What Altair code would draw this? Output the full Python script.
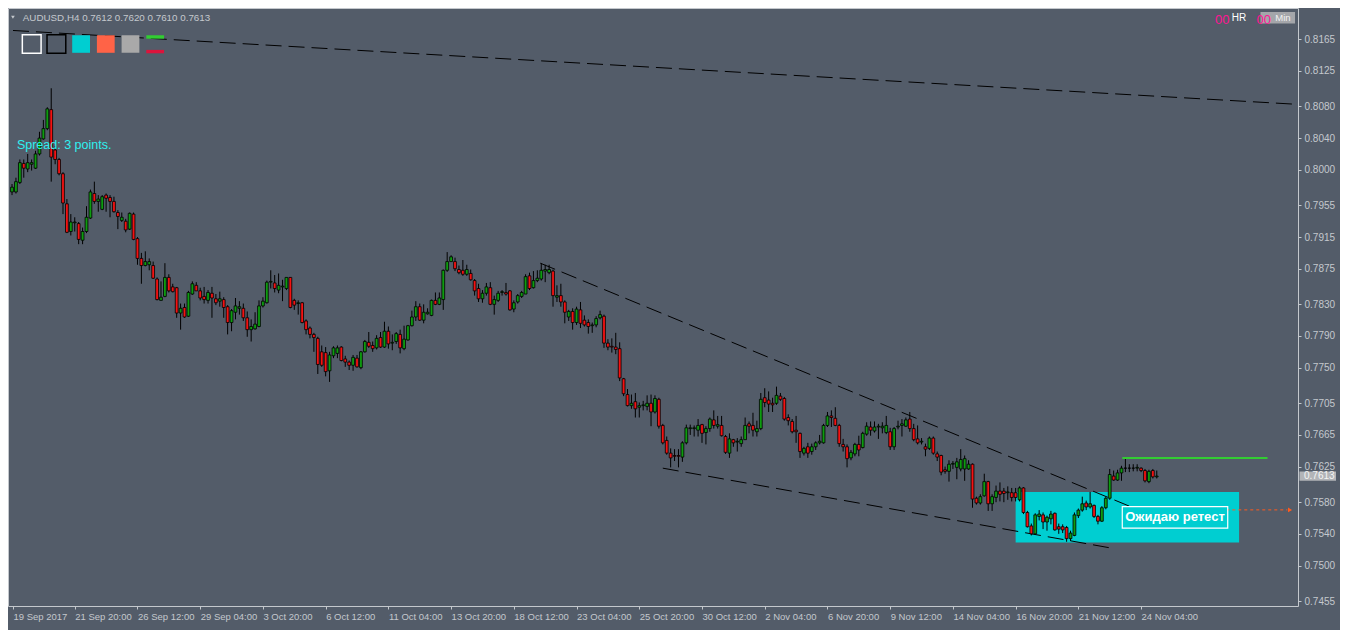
import json
import altair as alt
import pandas as pd

# ---------------- data (prices in 1/10000 units) ----------------
OPEN = [
    7972, 7972, 7984, 8008, 8001, 8007, 8002, 8020, 8039, 8052,
    8076, 8025, 8013, 7995, 7957, 7922, 7933, 7932, 7911, 7922,
    7939, 7970, 7960, 7950, 7968, 7965, 7960, 7946, 7936, 7935,
    7925, 7944, 7913, 7888, 7879, 7880, 7879, 7862, 7835, 7840,
    7864, 7852, 7851, 7819, 7826, 7815, 7843, 7854, 7847, 7840,
    7835, 7844, 7837, 7834, 7836, 7827, 7807, 7820, 7825, 7825,
    7813, 7798, 7799, 7802, 7828, 7832, 7858, 7857, 7848, 7852,
    7850, 7864, 7835, 7831, 7832, 7809, 7800, 7792, 7787, 7770,
    7769, 7746, 7765, 7768, 7776, 7761, 7757, 7753, 7762, 7750,
    7770, 7782, 7778, 7775, 7788, 7776, 7796, 7781, 7783, 7792,
    7774, 7785, 7803, 7814, 7827, 7810, 7818, 7816, 7835, 7830,
    7836, 7873, 7884, 7884, 7874, 7873, 7868, 7869, 7860, 7850,
    7837, 7844, 7851, 7830, 7835, 7845, 7845, 7847, 7824, 7833,
    7840, 7843, 7866, 7851, 7860, 7862, 7872, 7870, 7872, 7839,
    7841, 7833, 7814, 7821, 7807, 7823, 7810, 7807, 7803, 7804,
    7813, 7815, 7781, 7777, 7776, 7774, 7736, 7716, 7702, 7707,
    7700, 7702, 7701, 7705, 7694, 7710, 7677, 7658, 7642, 7639,
    7639, 7637, 7655, 7673, 7673, 7671, 7678, 7668, 7673, 7684,
    7676, 7677, 7663, 7642, 7659, 7656, 7654, 7659, 7679, 7677,
    7669, 7673, 7712, 7709, 7705, 7705, 7714, 7711, 7687, 7682,
    7671, 7667, 7642, 7650, 7644, 7650, 7655, 7655, 7677, 7689,
    7686, 7677, 7653, 7650, 7636, 7641, 7653, 7649, 7666, 7675,
    7670, 7675, 7674, 7668, 7669, 7650, 7675, 7677, 7676, 7685,
    7673, 7660, 7656, 7650, 7648, 7661, 7641, 7639, 7621, 7619,
    7628, 7624, 7622, 7622, 7622, 7628, 7585, 7579, 7588, 7606,
    7578, 7586, 7594, 7594, 7592, 7592, 7592, 7583, 7598, 7567,
    7550, 7540, 7562, 7564, 7555, 7559, 7566, 7549, 7549, 7548,
    7534, 7538, 7563, 7570, 7579, 7574, 7576, 7562, 7556, 7573,
    7585, 7613, 7608, 7617, 7623, 7623, 7623, 7623, 7623, 7620,
    7606, 7620, 7612,
]
HIGH = [
    7982, 7990, 8013, 8013, 8020, 8013, 8024, 8048, 8063, 8079,
    8103, 8030, 8015, 7997, 7963, 7944, 7940, 7934, 7927, 7954,
    7975, 7985, 7968, 7968, 7970, 7968, 7966, 7949, 7946, 7938,
    7946, 7946, 7915, 7895, 7897, 7888, 7884, 7864, 7859, 7882,
    7868, 7856, 7852, 7831, 7831, 7847, 7859, 7858, 7851, 7852,
    7848, 7852, 7843, 7846, 7839, 7829, 7824, 7838, 7834, 7831,
    7821, 7811, 7820, 7835, 7839, 7860, 7873, 7867, 7869, 7861,
    7864, 7864, 7837, 7835, 7833, 7811, 7802, 7794, 7789, 7778,
    7776, 7770, 7777, 7778, 7777, 7765, 7759, 7766, 7766, 7771,
    7785, 7795, 7783, 7791, 7795, 7808, 7802, 7792, 7795, 7798,
    7803, 7804, 7822, 7834, 7831, 7830, 7825, 7836, 7845, 7845,
    7874, 7896, 7892, 7889, 7879, 7886, 7880, 7874, 7862, 7856,
    7848, 7857, 7858, 7841, 7847, 7848, 7857, 7848, 7835, 7843,
    7847, 7868, 7870, 7872, 7873, 7882, 7880, 7880, 7874, 7854,
    7856, 7835, 7823, 7825, 7827, 7833, 7816, 7811, 7807, 7815,
    7822, 7817, 7786, 7787, 7794, 7782, 7737, 7723, 7716, 7718,
    7706, 7708, 7715, 7716, 7715, 7712, 7679, 7663, 7648, 7647,
    7647, 7657, 7678, 7678, 7677, 7685, 7679, 7676, 7687, 7696,
    7689, 7689, 7665, 7667, 7660, 7661, 7663, 7687, 7682, 7693,
    7683, 7718, 7724, 7720, 7712, 7726, 7718, 7713, 7691, 7685,
    7689, 7668, 7650, 7655, 7654, 7657, 7665, 7679, 7694, 7696,
    7700, 7679, 7660, 7653, 7646, 7655, 7664, 7669, 7681, 7682,
    7682, 7679, 7681, 7689, 7674, 7675, 7683, 7685, 7687, 7694,
    7679, 7677, 7661, 7654, 7663, 7663, 7644, 7640, 7625, 7633,
    7632, 7636, 7647, 7639, 7633, 7629, 7587, 7590, 7616, 7607,
    7590, 7601, 7605, 7598, 7600, 7598, 7598, 7600, 7599, 7569,
    7553, 7566, 7570, 7567, 7563, 7569, 7567, 7553, 7552, 7550,
    7544, 7567, 7572, 7587, 7582, 7593, 7577, 7564, 7575, 7587,
    7622, 7620, 7621, 7626, 7635, 7628, 7628, 7628, 7624, 7622,
    7621, 7622, 7620,
]
LOW = [
    7968, 7970, 7982, 7990, 7997, 7999, 8001, 8018, 8038, 8050,
    7985, 8007, 7993, 7944, 7920, 7917, 7922, 7906, 7906, 7920,
    7938, 7957, 7947, 7949, 7947, 7940, 7946, 7925, 7934, 7921,
    7924, 7911, 7880, 7856, 7878, 7873, 7862, 7835, 7835, 7839,
    7845, 7845, 7813, 7798, 7813, 7814, 7842, 7847, 7835, 7831,
    7831, 7813, 7829, 7827, 7813, 7792, 7796, 7811, 7817, 7809,
    7789, 7783, 7798, 7801, 7826, 7831, 7850, 7845, 7844, 7834,
    7848, 7825, 7823, 7817, 7806, 7792, 7787, 7770, 7742, 7751,
    7739, 7732, 7762, 7762, 7758, 7751, 7747, 7746, 7750, 7748,
    7769, 7775, 7770, 7773, 7775, 7775, 7774, 7772, 7780, 7768,
    7772, 7784, 7802, 7809, 7809, 7806, 7817, 7815, 7829, 7829,
    7823, 7871, 7884, 7872, 7868, 7866, 7866, 7860, 7841, 7833,
    7832, 7841, 7829, 7817, 7833, 7841, 7841, 7822, 7820, 7831,
    7838, 7843, 7848, 7850, 7858, 7860, 7858, 7868, 7827, 7833,
    7827, 7806, 7809, 7798, 7804, 7800, 7802, 7793, 7794, 7801,
    7811, 7775, 7772, 7769, 7767, 7733, 7714, 7701, 7698, 7687,
    7687, 7696, 7696, 7676, 7692, 7673, 7653, 7640, 7624, 7632,
    7624, 7631, 7653, 7665, 7663, 7663, 7655, 7653, 7669, 7673,
    7673, 7663, 7641, 7636, 7650, 7644, 7650, 7659, 7667, 7663,
    7663, 7671, 7700, 7694, 7694, 7703, 7708, 7683, 7677, 7667,
    7655, 7636, 7639, 7636, 7640, 7646, 7653, 7654, 7675, 7675,
    7676, 7650, 7644, 7624, 7633, 7638, 7638, 7648, 7664, 7664,
    7668, 7660, 7667, 7666, 7646, 7646, 7672, 7663, 7675, 7669,
    7657, 7653, 7653, 7638, 7646, 7640, 7632, 7614, 7616, 7606,
    7622, 7609, 7619, 7607, 7621, 7573, 7577, 7577, 7587, 7569,
    7569, 7580, 7581, 7580, 7583, 7581, 7581, 7581, 7565, 7548,
    7538, 7539, 7557, 7546, 7544, 7552, 7544, 7540, 7541, 7530,
    7531, 7537, 7560, 7568, 7570, 7572, 7560, 7552, 7555, 7571,
    7583, 7607, 7607, 7607, 7618, 7618, 7619, 7619, 7618, 7605,
    7604, 7610, 7610,
]
CLOSE = [
    7978, 7985, 8009, 8002, 8009, 8009, 8020, 8040, 8052, 8077,
    8016, 8013, 7995, 7958, 7921, 7934, 7934, 7912, 7922, 7940,
    7972, 7960, 7963, 7966, 7964, 7960, 7947, 7941, 7940, 7924,
    7945, 7912, 7888, 7879, 7884, 7884, 7863, 7836, 7839, 7864,
    7847, 7846, 7819, 7825, 7814, 7845, 7856, 7847, 7838, 7836,
    7845, 7838, 7832, 7837, 7826, 7807, 7822, 7828, 7827, 7813,
    7798, 7802, 7805, 7828, 7834, 7858, 7859, 7850, 7854, 7853,
    7864, 7826, 7829, 7832, 7807, 7798, 7792, 7788, 7754, 7753,
    7745, 7766, 7775, 7775, 7759, 7757, 7753, 7763, 7751, 7770,
    7783, 7777, 7774, 7787, 7776, 7796, 7780, 7782, 7793, 7775,
    7786, 7803, 7814, 7827, 7810, 7820, 7820, 7835, 7830, 7838,
    7873, 7884, 7890, 7875, 7870, 7868, 7874, 7861, 7847, 7837,
    7844, 7852, 7830, 7836, 7844, 7846, 7843, 7823, 7832, 7841,
    7845, 7865, 7850, 7860, 7863, 7873, 7874, 7874, 7841, 7841,
    7833, 7820, 7821, 7807, 7824, 7806, 7804, 7802, 7804, 7812,
    7817, 7781, 7776, 7776, 7773, 7737, 7717, 7702, 7705, 7698,
    7702, 7703, 7705, 7694, 7711, 7676, 7655, 7642, 7636, 7638,
    7638, 7655, 7674, 7674, 7674, 7677, 7667, 7673, 7685, 7677,
    7678, 7664, 7643, 7660, 7655, 7657, 7659, 7677, 7676, 7671,
    7673, 7710, 7706, 7704, 7703, 7715, 7710, 7685, 7683, 7669,
    7669, 7644, 7648, 7642, 7650, 7655, 7657, 7677, 7689, 7687,
    7677, 7654, 7650, 7635, 7643, 7653, 7646, 7667, 7676, 7671,
    7675, 7676, 7676, 7677, 7650, 7673, 7676, 7679, 7684, 7673,
    7659, 7655, 7657, 7647, 7661, 7642, 7637, 7618, 7619, 7628,
    7629, 7631, 7634, 7635, 7628, 7584, 7579, 7587, 7606, 7578,
    7587, 7594, 7590, 7591, 7593, 7586, 7586, 7598, 7567, 7549,
    7540, 7564, 7565, 7555, 7561, 7565, 7545, 7546, 7545, 7534,
    7541, 7564, 7570, 7578, 7574, 7578, 7562, 7556, 7573, 7585,
    7615, 7608, 7617, 7623, 7623, 7623, 7623, 7624, 7620, 7607,
    7619, 7612, 7613,
]

DATE_LABELS = [
    "19 Sep 2017", "21 Sep 20:00", "26 Sep 12:00", "29 Sep 04:00", "3 Oct 20:00",
    "6 Oct 12:00", "11 Oct 04:00", "13 Oct 20:00", "18 Oct 12:00", "23 Oct 04:00",
    "25 Oct 20:00", "30 Oct 12:00", "2 Nov 04:00", "6 Nov 20:00", "9 Nov 12:00",
    "14 Nov 04:00", "16 Nov 20:00", "21 Nov 12:00", "24 Nov 04:00",
]
DATE_TICKS = [0.25] + [16 * k for k in range(1, 19)]
PRICE_TICKS = [0.8165, 0.8125, 0.8080, 0.8040, 0.8000, 0.7955, 0.7915, 0.7875, 0.7830,
               0.7790, 0.7750, 0.7705, 0.7665, 0.7625, 0.7580, 0.7540, 0.7500, 0.7455]

# trend lines: (bar start, price start, bar end, price end)
LINE_X1 = [0.25, 134.75, 166.0]
LINE_P1 = [0.8176, 0.7882, 0.7623]
LINE_X2 = [326.75, 287.75, 281.0]
LINE_P2 = [0.8083, 0.75694, 0.75215]

ZONE = {"x1": [256.0], "x2": [313.0], "p1": [0.7529], "p2": [0.7593]}
LEVEL = {"x1": [283.2], "x2": [320.25], "p": [0.7636]}
NOTE = {"x1": [283.2], "x2": [310.1], "p1": [0.75473], "p2": [0.75744],
        "xc": [296.65], "pc": [0.7561], "text": ["Ожидаю ретест"]}
ASK = {"x1": [308.2], "x2": [325.3], "xt": [326.0], "p": [0.75703]}
LAST_PRICE = [0.7613]

# ---------------- layout / style ----------------
W, H = 1290, 598
SX, SY = W / 1306, H / 614
BG = "#535c69"
AXC = "#c4c8cd"
BULL, BEAR = "#0e9c10", "#f41212"
FONT = "Liberation Sans"

xs = alt.Scale(domain=[0.25, 326.75], nice=False, zero=False)
ys = alt.Scale(domain=[0.744885, 0.82044], nice=False, zero=False)

bars = pd.DataFrame({
    "bar": list(range(len(CLOSE))),
    "o": [v / 1e4 for v in OPEN],
    "h": [v / 1e4 for v in HIGH],
    "l": [v / 1e4 for v in LOW],
    "c": [v / 1e4 for v in CLOSE],
})

xaxis = alt.Axis(
    values=DATE_TICKS, labelExpr=f"{json.dumps(DATE_LABELS)}[round(datum.value / 16)]",
    title=None, grid=False, domain=False, ticks=True, tickSize=3, tickColor=AXC, labelColor=AXC,
    labelFont=FONT, labelFontSize=9.5, labelAlign="left", labelBaseline="top",
    labelPadding=2, labelOverlap=False, labelFlush=False, labelBound=False,
)
yaxis = alt.Axis(
    orient="right", values=PRICE_TICKS, format=".4f", title=None, grid=False,
    domain=False, ticks=True, tickSize=3, tickColor=AXC, labelColor=AXC, labelFont=FONT,
    labelFontSize=10, labelPadding=3, labelOverlap=False, labelFlush=False,
)


def qx(f):
    return alt.X(f, type="quantitative", scale=xs, axis=xaxis)


def qy(f):
    return alt.Y(f, type="quantitative", scale=ys, axis=yaxis)


zone = alt.Chart(pd.DataFrame(ZONE)).mark_rect(color="#00ced1").encode(
    x=qx("x1"), x2="x2", y=qy("p1"), y2="p2")

lines = alt.Chart(pd.DataFrame({"x1": LINE_X1, "p1": LINE_P1, "x2": LINE_X2, "p2": LINE_P2})).mark_rule(
    color="#000000", strokeWidth=1, strokeDash=[16, 7], clip=True).encode(
    x=qx("x1"), x2="x2", y=qy("p1"), y2="p2")

wicks = alt.Chart(bars).mark_rule(color="#000000", strokeWidth=1, clip=True).encode(
    x=qx("bar"), y=qy("l"), y2="h")

bodies = alt.Chart(bars).mark_bar(size=2.8, stroke="#000000", strokeWidth=0.8, clip=True).encode(
    x=qx("bar"), y=qy("o"), y2="c",
    color=alt.condition("datum.c >= datum.o", alt.value(BULL), alt.value(BEAR)),
)

level = alt.Chart(pd.DataFrame(LEVEL)).mark_rule(color="#33cc33", strokeWidth=2).encode(
    x=qx("x1"), x2="x2", y=qy("p"))

ask_df = pd.DataFrame(ASK)
ask_line = alt.Chart(ask_df).mark_rule(color="#ff5a1e", strokeWidth=1, strokeDash=[3, 3], clip=False).encode(
    x=qx("x1"), x2="x2", y=qy("p"))
ask_tri = alt.Chart(ask_df).mark_point(shape="triangle-right", filled=True, size=22, color="#ff5a1e",
                                       opacity=1, clip=False).encode(x=qx("xt"), y=qy("p"))

note_df = pd.DataFrame(NOTE)
note_box = alt.Chart(note_df).mark_rect(fill="#00ced1", stroke="#ffffff", strokeWidth=1.2).encode(
    x=qx("x1"), x2="x2", y=qy("p1"), y2="p2")
note_txt = alt.Chart(note_df).mark_text(font=FONT, fontWeight="bold", fontSize=13,
                                        color="#ffffff", align="center", baseline="middle").encode(
    x=qx("xc"), y=qy("pc"), text="text:N")

tag_df = pd.DataFrame({"p": LAST_PRICE})
tag_box = alt.Chart(tag_df).transform_calculate(
    top="datum.p + 0.00058", bot="datum.p - 0.00058").mark_rect(color="#b2b4b8", clip=False).encode(
    x=alt.value(W + 1.5), x2=alt.value(W + 38), y=qy("top:Q"), y2="bot:Q")
tag_txt = alt.Chart(tag_df).mark_text(font=FONT, fontSize=10, color="#f4f4f4", align="left",
                                      baseline="middle", clip=False).encode(
    x=alt.value(W + 6), y=qy("p"), text=alt.Text("p:Q", format=".4f"))

one = pd.DataFrame({"k": [0]})


def ui_rect(x1, y1, x2, y2, **style):
    return alt.Chart(one).mark_rect(**style).encode(
        x=alt.value(x1 * SX), x2=alt.value(x2 * SX), y=alt.value(y1 * SY), y2=alt.value(y2 * SY))


def ui_text(x, y, text, **style):
    return alt.Chart(one).mark_text(text=text, align="left", baseline="middle", **style).encode(
        x=alt.value(x * SX), y=alt.value(y * SY))


ui = [
    ui_rect(14.5, 27.5, 33.5, 46.5, fill=BG, stroke="#ffffff", strokeWidth=1.5),
    ui_rect(39.5, 27.5, 58.5, 46.5, fill=BG, stroke="#000000", strokeWidth=1.5),
    ui_rect(65, 28, 83, 46, fill="#00ced1"),
    ui_rect(90, 28, 108, 46, fill="#ff6347"),
    ui_rect(115, 28, 133, 46, fill="#a9a9a9"),
    ui_rect(140, 28, 158, 31.5, fill="#32cd32"),
    ui_rect(140, 43, 158, 46.5, fill="#dc143c"),
    alt.Chart(one).mark_point(shape="triangle-down", filled=True, size=14, color=AXC, opacity=1).encode(
        x=alt.value(5 * SX), y=alt.value(9.5 * SY)),
    ui_text(15, 10, "AUDUSD,H4  0.7612 0.7620 0.7610 0.7613", font=FONT, fontSize=9.8, color=AXC),
    ui_text(9, 141, "Spread: 3 points.", font=FONT, fontSize=12.5, color="#2ef0f0"),
    ui_text(1222, 12, "00", font=FONT, fontSize=13, color="#ff1493"),
    ui_text(1239, 10, "HR", font=FONT, fontSize=10, color="#ffffff"),
    ui_rect(1268, 4, 1303, 16, fill="#a4a6aa"),
    ui_text(1264, 12, "00", font=FONT, fontSize=13, color="#ff1493"),
    ui_text(1283, 10, "Min", font=FONT, fontSize=9.5, color="#f2f2f2"),
]

chart = alt.layer(
    zone, lines, wicks, bodies, level, ask_line, ask_tri, note_box, note_txt, tag_box, tag_txt, *ui
).properties(
    width=W, height=H,
    autosize=alt.AutoSizeParams(type="none"),
    padding={"left": 0, "top": 0, "right": 42, "bottom": 24},
).configure(background=BG, font=FONT).configure_view(stroke=AXC, strokeWidth=1)

chart.save("out.html", embed_options={"renderer": "svg", "actions": False})
